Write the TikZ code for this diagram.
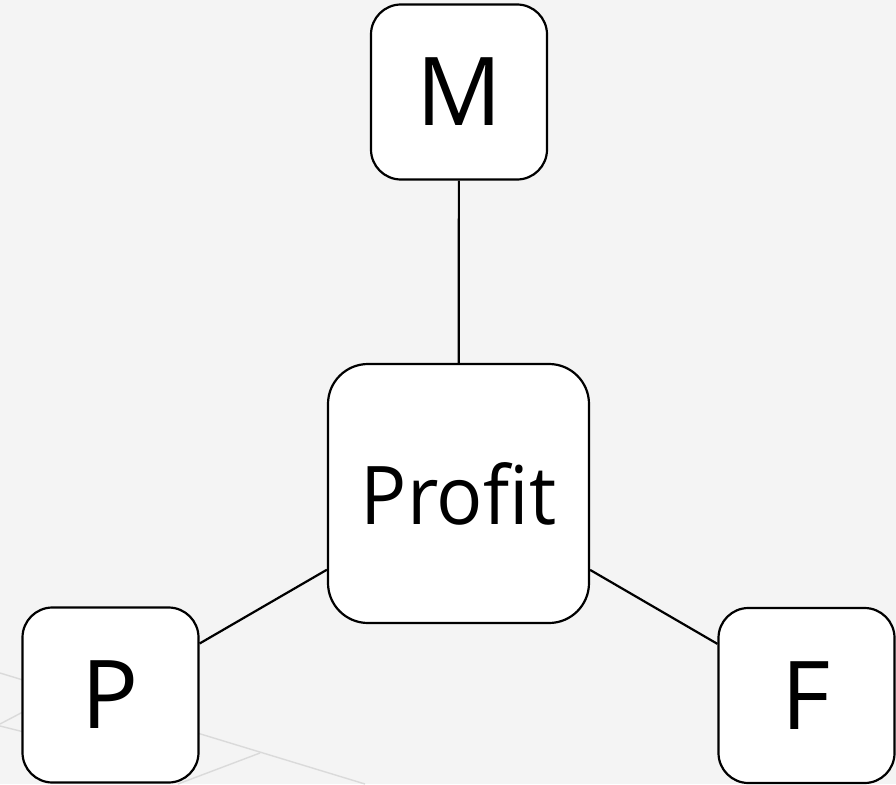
\documentclass[tikz,border=0pt]{standalone}
\usepackage{fontspec}
\setmainfont{Open Sans}
\definecolor{bg}{HTML}{F4F4F4}
\definecolor{faint}{HTML}{DADADA}
\begin{document}
\begin{tikzpicture}[x=1pt,y=-1pt,
  box/.style={draw=black, line width=2.2pt, fill=white, rounded corners=30pt, inner sep=0pt, text depth=0pt},
  small/.style={box, minimum width=176pt, minimum height=175pt, font=\fontsize{95}{100}\selectfont},
  big/.style={box, minimum width=261pt, minimum height=259pt, rounded corners=40pt, font=\fontsize{81}{90}\selectfont},
  link/.style={draw=black, line width=2.2pt},
  grid/.style={draw=faint, line width=1.4pt}]
\fill[bg] (0,0) rectangle (896,784);
\useasboundingbox (0,0) rectangle (896,784);
% faint background lines
\draw[grid] (0,673) -- (365,784);
\draw[grid] (260,753) -- (178,784);
\draw[grid] (0,724) -- (40,703);
\draw[grid] (0,726) -- (40,736);
\node[small] (m) at (459,92) {M};
\node[big] (profit) at (458.5,493.5) {\scalebox{0.95}[1]{Profit}};
\node[small] (p) at (110.5,695) {P};
\node[small] (f) at (806.5,695.5) {F};
\draw[link] (m) -- (profit);
\draw[link] (profit) -- (p);
\draw[link] (profit) -- (f);
\end{tikzpicture}
\end{document}
